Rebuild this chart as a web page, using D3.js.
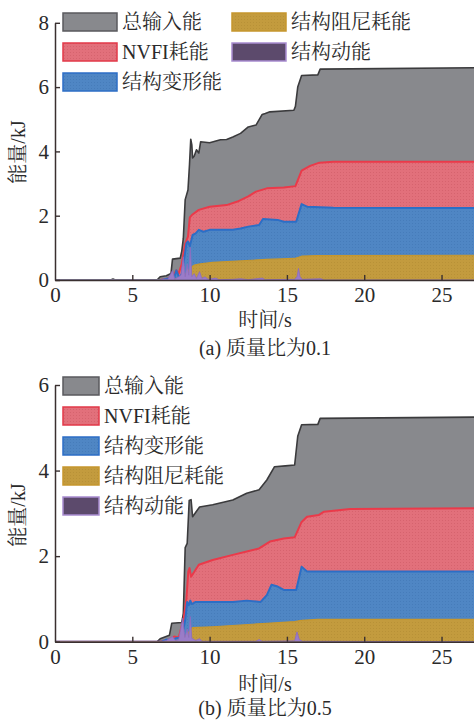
<!DOCTYPE html>
<html>
<head>
<meta charset="utf-8">
<script src="https://cdn.jsdelivr.net/npm/d3@7"></script>
<style>
  html, body { margin: 0; padding: 0; background: #fff; }
  svg { display: block; }
  text { font-family: "Liberation Serif", "Times New Roman", "Noto Serif CJK SC", "Noto Sans CJK SC", serif; fill: #2a2a2a; }
</style>
</head>
<body>
<svg id="fig" width="474" height="720"></svg>
<script>
// Cumulative energy curves, [time s, energy kJ]
// (a) mass ratio 0.1
const inputA = [[0,0],[3.6,0],[3.75,0.03],[3.9,0],[6.6,0],[6.8,0.1],[7.2,0.13],[7.5,0.2],[7.6,0.65],[8.1,0.68],[8.2,0.9],[8.3,1.3],[8.42,2.5],[8.6,2.8],[8.7,3.6],[8.78,4.38],[8.85,4.2],[8.9,3.8],[9.0,3.85],[9.15,4.05],[9.3,3.95],[9.42,4.3],[10.0,4.27],[10.7,4.36],[11.1,4.37],[11.5,4.45],[12.0,4.56],[12.5,4.76],[13.0,4.82],[13.4,5.15],[13.6,5.18],[13.9,5.23],[15.45,5.28],[15.55,5.4],[15.7,6.0],[15.95,6.36],[17.0,6.38],[17.15,6.56],[27.1,6.6]];
const nvfiA = [[0,0],[6.8,0],[7.2,0.03],[7.6,0.1],[7.85,0.3],[8.0,0.2],[8.2,0.5],[8.4,1.1],[8.6,1.35],[8.72,1.95],[8.85,2.02],[9.3,2.18],[10.0,2.28],[11.1,2.33],[11.8,2.44],[12.5,2.6],[13.0,2.75],[13.7,2.85],[14.8,2.88],[15.55,2.92],[15.95,3.4],[16.5,3.55],[17.1,3.65],[18,3.68],[27.1,3.68]];
const deformA = [[0,0],[6.9,0],[7.3,0.05],[7.7,0.05],[7.85,0.3],[8.05,0.05],[8.2,0.2],[8.4,0.8],[8.5,1.14],[8.6,1.2],[8.72,1.05],[8.9,1.4],[9.1,1.45],[9.3,1.56],[9.6,1.5],[10.0,1.56],[11.5,1.56],[12.0,1.6],[12.5,1.66],[13.2,1.71],[13.45,1.9],[14.4,1.87],[14.8,1.81],[15.6,1.81],[15.95,2.36],[16.3,2.28],[18,2.25],[27.1,2.24]];
const dampA = [[0,0],[7.5,0],[8.0,0.05],[8.5,0.2],[8.8,0.4],[9.0,0.46],[9.4,0.5],[10.2,0.55],[13.7,0.64],[15.5,0.67],[15.95,0.74],[17,0.76],[27.1,0.77]];
const kinA = [[0,0],[6.8,0],[7.0,0.03],[7.3,0.02],[7.6,0.3],[7.75,0.02],[8.0,0.1],[8.15,0.15],[8.3,0.72],[8.42,0.1],[8.55,0.5],[8.65,0.15],[8.75,1.02],[8.85,0.1],[9.0,0.2],[9.15,0.05],[9.35,0.26],[9.5,0.05],[9.7,0.1],[9.9,0.02],[10.4,0.06],[10.6,0.01],[11.5,0.02],[12.0,0.04],[12.5,0.01],[13.4,0.06],[13.6,0.01],[15.5,0.02],[15.65,0.1],[15.75,0.36],[15.85,0.1],[16.0,0.02],[17.2,0.04],[17.4,0],[27.1,0]];

// (b) mass ratio 0.5
const inputB = [[0,0],[6.6,0],[6.8,0.07],[7.4,0.15],[7.55,0.43],[8.2,0.45],[8.3,0.66],[8.42,2.2],[8.55,2.3],[8.68,3.3],[8.8,3.32],[8.9,2.92],[9.35,3.15],[10.2,3.2],[11.5,3.31],[12.4,3.47],[13.2,3.55],[13.7,3.78],[14.2,4.09],[14.9,4.11],[15.5,4.13],[15.7,4.8],[15.95,5.07],[17.0,5.08],[17.15,5.22],[27.1,5.25]];
const nvfiB = [[0,0],[6.8,0],[7.4,0.05],[7.7,0.12],[8.0,0.1],[8.3,0.5],[8.5,1.0],[8.62,1.64],[8.7,1.72],[8.8,1.52],[9.3,1.8],[10.2,1.91],[11.5,2.03],[12.4,2.11],[13.2,2.18],[13.9,2.34],[14.8,2.41],[15.5,2.44],[15.95,2.8],[16.3,2.92],[17.05,2.96],[17.4,3.04],[19.1,3.1],[27.1,3.12]];
const deformB = [[0,0],[6.9,0],[7.2,0.05],[7.6,0.03],[7.8,0.08],[8.2,0.1],[8.42,0.5],[8.55,0.93],[8.65,0.85],[8.75,0.96],[8.85,0.88],[9.1,0.93],[11.5,0.93],[12.4,0.96],[13.3,0.93],[13.7,1.09],[14.0,1.33],[14.4,1.29],[14.8,1.21],[15.6,1.21],[15.95,1.75],[16.3,1.64],[27.1,1.64]];
const dampB = [[0,0],[7.5,0],[8.2,0.05],[8.6,0.2],[8.9,0.33],[10.2,0.35],[13.7,0.43],[15.5,0.47],[15.95,0.5],[17,0.52],[27.1,0.52]];
const kinB = [[0,0],[6.8,0],[7.2,0.03],[7.6,0.12],[7.8,0.02],[8.0,0.05],[8.26,0.55],[8.4,0.1],[8.55,0.3],[8.65,0.1],[8.75,0.59],[8.85,0.08],[9.1,0.03],[9.35,0.07],[9.5,0.01],[13.0,0.01],[13.2,0.05],[13.4,0.01],[15.5,0.02],[15.65,0.23],[15.8,0.05],[16.0,0.01],[27.1,0]];

const seriesNames = ["总输入能", "NVFI耗能", "结构变形能", "结构阻尼耗能", "结构动能"];
const xTicks = [0, 5, 10, 15, 20, 25];
const yTicksA = [0, 2, 4, 6, 8];
const yTicksB = [0, 2, 4, 6];
const xTitle = "时间/s";
const yTitle = "能量/kJ";
const captions = ["(a) 质量比为0.1", "(b) 质量比为0.5"];

const styles = [
  { fill: "#88898d", stroke: "#3b3b3d", sw: 1.6, pat: null, legFill: "#88898d", legStroke: "#5a5a5e" },
  { fill: "#e2707b", stroke: "#ea3a4a", sw: 2, pat: "#cf5a66", legFill: "#e2707b", legStroke: "#e23848" },
  { fill: "#4f86c4", stroke: "#2c6ec6", sw: 2, pat: "#3f74b4", legFill: "#4f86c4", legStroke: "#2c6ec6" },
  { fill: "#c39b3e", stroke: "#c6972e", sw: 1.2, pat: "#b08a32", legFill: "#c39b3e", legStroke: "#c6972e" },
  { fill: "#9a7cc8", stroke: "#8c6cc0", sw: 0.8, pat: null, legFill: "#5c4a6c", legStroke: "#a88cd0" }
];

const svg = d3.select("#fig");
const defs = svg.append("defs");
styles.forEach((s, i) => {
  if (!s.pat) return;
  const p = defs.append("pattern").attr("id", "stip" + i)
    .attr("width", 3).attr("height", 3).attr("patternUnits", "userSpaceOnUse");
  p.append("rect").attr("width", 3).attr("height", 3).attr("fill", s.fill);
  p.append("rect").attr("x", 1).attr("y", 1).attr("width", 1).attr("height", 1).attr("fill", s.pat).attr("opacity", 0.6);
});
const fillOf = i => styles[i].pat ? `url(#stip${i})` : styles[i].fill;

function drawPanel(cfg) {
  const x = d3.scaleLinear().domain([0, 27.1]).range([55, 474]);
  const y = d3.scaleLinear().domain([0, cfg.yMax]).range([cfg.y0, cfg.yTop]);
  const g = svg.append("g");
  const clipId = "clip" + cfg.id;
  defs.append("clipPath").attr("id", clipId)
    .append("rect").attr("x", 55).attr("y", cfg.yTop - 5).attr("width", 419).attr("height", cfg.y0 - cfg.yTop + 5);
  const plot = g.append("g").attr("clip-path", `url(#${clipId})`);

  const area = d3.area().x(d => x(d[0])).y0(y(0)).y1(d => y(d[1]));
  const line = d3.line().x(d => x(d[0])).y(d => y(d[1]));
  cfg.series.forEach((data, i) => {
    plot.append("path").datum(data).attr("d", area).attr("fill", fillOf(i));
    plot.append("path").datum(data).attr("d", line).attr("fill", "none")
      .attr("stroke", styles[i].stroke).attr("stroke-width", styles[i].sw).attr("stroke-linejoin", "round");
  });

  // axes with inward ticks
  const ax = g.append("g").attr("transform", `translate(0,${cfg.y0})`)
    .call(d3.axisBottom(x).tickValues(xTicks).tickSize(-5).tickSizeOuter(0).tickPadding(7).tickFormat(d3.format("d")));
  const ay = g.append("g").attr("transform", "translate(55,0)")
    .call(d3.axisLeft(y).tickValues(cfg.yTicks).tickSize(-5).tickSizeOuter(0).tickPadding(6).tickFormat(d3.format("d")));
  [ax, ay].forEach(a => {
    a.select(".domain").attr("stroke", "#3a3030").attr("stroke-width", 1.5);
    a.selectAll(".tick line").attr("stroke", "#3a3030").attr("stroke-width", 1.4);
    a.selectAll(".tick text").attr("font-size", 21).attr("fill", "#2a2a2a")
      .style("font-family", "'Liberation Serif', 'Times New Roman', serif");
  });
  ax.selectAll(".tick").filter(d => d === 0).select("line").remove();

  g.append("text").attr("x", 265).attr("y", cfg.xTitleY).attr("text-anchor", "middle")
    .attr("font-size", 20).text(xTitle);
  g.append("text").attr("transform", `translate(25,${cfg.yTitleY}) rotate(-90)`)
    .attr("text-anchor", "middle").attr("font-size", 20).text(yTitle);
  g.append("text").attr("x", 265).attr("y", cfg.capY).attr("text-anchor", "middle")
    .attr("font-size", 20).text(cfg.caption);

  // legend
  const lg = g.append("g");
  cfg.legend.forEach(l => {
    const i = l.i;
    lg.append("rect").attr("x", l.x).attr("y", l.y).attr("width", cfg.swW).attr("height", 18)
      .attr("fill", i === 4 ? styles[i].legFill : fillOf(i))
      .attr("stroke", styles[i].legStroke).attr("stroke-width", 1.5);
    lg.append("text").attr("x", l.x + cfg.swW + 5).attr("y", l.y + 16)
      .attr("font-size", 20).text(seriesNames[i]);
  });
}

drawPanel({
  id: "a", yMax: 8, y0: 280, yTop: 22.8, yTicks: yTicksA,
  series: [inputA, nvfiA, deformA, dampA, kinA],
  xTitleY: 327, yTitleY: 152, capY: 355, caption: captions[0], swW: 54,
  legend: [{ i: 0, x: 63, y: 13 }, { i: 1, x: 63, y: 43 }, { i: 2, x: 63, y: 73 },
           { i: 3, x: 232, y: 13 }, { i: 4, x: 232, y: 43 }]
});
drawPanel({
  id: "b", yMax: 6, y0: 641.7, yTop: 385, yTicks: yTicksB,
  series: [inputB, nvfiB, deformB, dampB, kinB],
  xTitleY: 691, yTitleY: 515, capY: 715, caption: captions[1], swW: 36,
  legend: [{ i: 0, x: 63, y: 377 }, { i: 1, x: 63, y: 407 }, { i: 2, x: 63, y: 437 },
           { i: 3, x: 63, y: 467 }, { i: 4, x: 63, y: 497 }]
});
</script>
</body>
</html>
